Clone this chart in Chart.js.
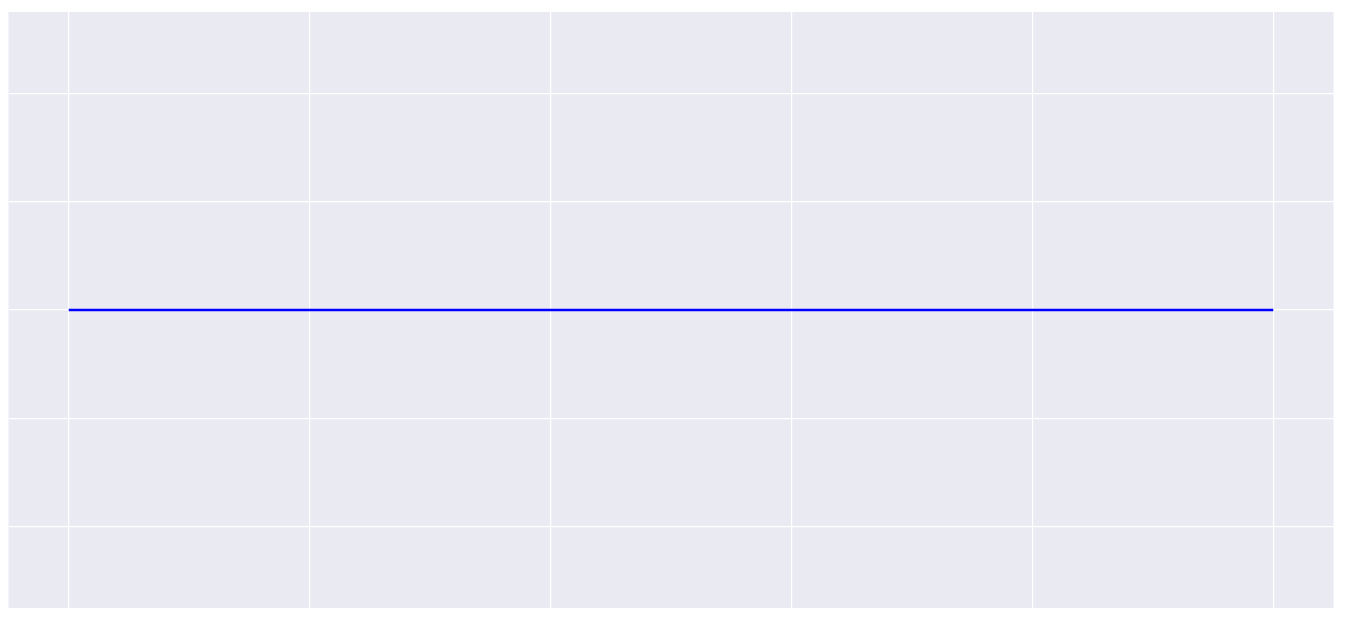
<!DOCTYPE html>
<html>
<head>
<meta charset="utf-8">
<script src="https://cdn.jsdelivr.net/npm/chart.js@4/dist/chart.umd.min.js"></script>
<style>
  html, body { margin: 0; padding: 0; background: #ffffff; }
  #wrap { width: 1348px; height: 622px; }
</style>
</head>
<body>
<div id="wrap"><canvas id="c" width="1348" height="622"></canvas></div>
<script>
const xValues = [0, 1, 2, 3, 4, 5];
const yValues = [0, 0, 0, 0, 0, 0];
const xTicks = [0, 1, 2, 3, 4, 5];
const yTicks = [-0.04, -0.02, 0, 0.02, 0.04];

const bgPlugin = {
  id: 'plotBg',
  beforeDraw(chart) {
    const { ctx, chartArea: a } = chart;
    ctx.save();
    ctx.fillStyle = '#EAEAF2';
    ctx.fillRect(a.left, a.top, a.right - a.left, a.bottom - a.top);
    ctx.restore();
  }
};

new Chart(document.getElementById('c'), {
  type: 'line',
  data: {
    datasets: [{
      data: xValues.map((x, i) => ({ x: x, y: yValues[i] })),
      borderColor: '#0000FF',
      borderWidth: 2.6,
      borderCapStyle: 'butt',
      pointRadius: 0,
      fill: false,
      tension: 0
    }]
  },
  options: {
    responsive: false,
    animation: false,
    devicePixelRatio: 1,
    layout: { padding: { left: 8.5, top: 12, right: 14.5, bottom: 14 } },
    plugins: { legend: { display: false }, tooltip: { enabled: false } },
    scales: {
      x: {
        type: 'linear',
        min: -0.25, max: 5.25,
        afterBuildTicks: s => { s.ticks = xTicks.map(v => ({ value: v })); },
        ticks: { display: false },
        grid: { color: '#FFFFFF', lineWidth: 1.2, drawTicks: false },
        border: { display: false }
      },
      y: {
        type: 'linear',
        min: -0.055, max: 0.055,
        afterBuildTicks: s => { s.ticks = yTicks.map(v => ({ value: v })); },
        ticks: { display: false },
        grid: { color: '#FFFFFF', lineWidth: 1.2, drawTicks: false },
        border: { display: false }
      }
    }
  },
  plugins: [bgPlugin]
});
</script>
</body>
</html>
